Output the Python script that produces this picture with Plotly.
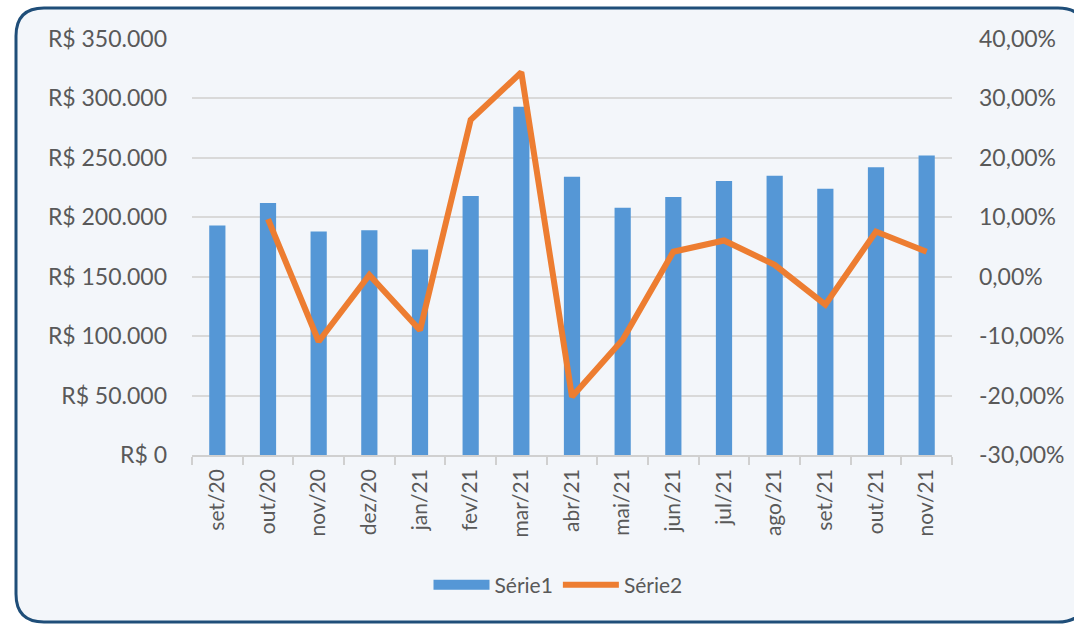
import plotly.graph_objects as go

categories = ["set/20", "out/20", "nov/20", "dez/20", "jan/21", "fev/21", "mar/21", "abr/21",
              "mai/21", "jun/21", "jul/21", "ago/21", "set/21", "out/21", "nov/21"]
serie1 = [193000, 212000, 188000, 189000, 173000, 218000, 293000, 234000,
          208000, 217000, 230500, 235000, 224000, 242000, 252000]
serie2 = [None, 0.097, -0.109, 0.003, -0.090, 0.264, 0.344, -0.202,
          -0.106, 0.042, 0.061, 0.020, -0.047, 0.076, 0.042]
y2_tickvals = [-0.30, -0.20, -0.10, 0.0, 0.10, 0.20, 0.30, 0.40]
y2_ticktext = ["-30,00%", "-20,00%", "-10,00%", "0,00%", "10,00%", "20,00%", "30,00%", "40,00%"]

W, H = 1074, 624
L, R, T, B = 192, 122, 39, 169
PW, PH = W - L - R, H - T - B


def px(x):
    return (x - L) / PW


def py(y):
    return (H - B - y) / PH


# rounded border frame (pixel coords -> paper coords)
x0, x1, y0, y1, rad = 16, 1086, 8, 622, 28
path = (
    f"M {px(x0)},{py(y0 + rad)} "
    f"Q {px(x0)},{py(y0)} {px(x0 + rad)},{py(y0)} "
    f"L {px(x1 - rad)},{py(y0)} "
    f"Q {px(x1)},{py(y0)} {px(x1)},{py(y0 + rad)} "
    f"L {px(x1)},{py(y1 - rad)} "
    f"Q {px(x1)},{py(y1)} {px(x1 - rad)},{py(y1)} "
    f"L {px(x0 + rad)},{py(y1)} "
    f"Q {px(x0)},{py(y1)} {px(x0)},{py(y1 - rad)} Z"
)

BAR_COLOR = "#5597D6"
LINE_COLOR = "#ED7D31"

fig = go.Figure()
fig.add_trace(go.Bar(
    x=categories, y=serie1, name="Série1",
    marker=dict(color=BAR_COLOR, line=dict(width=0)),
    width=0.32, yaxis="y", showlegend=False,
))
# legend proxy for the bar series (wide rectangle symbol, like the reference)
fig.add_trace(go.Scatter(
    x=[None], y=[None], name="Série1", mode="lines",
    line=dict(color=BAR_COLOR, width=12), yaxis="y", hoverinfo="skip",
))
fig.add_trace(go.Scatter(
    x=categories, y=serie2, name="Série2", mode="lines",
    line=dict(color=LINE_COLOR, width=6),
    yaxis="y2", connectgaps=False,
))

font_family = "Lato, 'Open Sans', sans-serif"
fig.update_layout(
    width=W, height=H,
    margin=dict(l=L, r=R, t=T, b=B, autoexpand=False),
    paper_bgcolor="white",
    plot_bgcolor="rgba(0,0,0,0)",
    separators=",.",
    font=dict(family=font_family, color="#595959", size=20),
    showlegend=True,
    legend=dict(orientation="h", x=px(558), xanchor="center", y=py(585), yanchor="middle",
                font=dict(size=21, color="#595959"), bgcolor="rgba(0,0,0,0)",
                itemwidth=56, tracegroupgap=0),
    shapes=[dict(type="path", path=path, xref="paper", yref="paper",
                 line=dict(color="#1F4E79", width=3), fillcolor="#F3F6FA", layer="below")],
    xaxis=dict(
        type="category", tickangle=-90, tickfont=dict(size=21, color="#595959"),
        showline=True, linecolor="#D0D0D0", linewidth=1.5,
        ticks="outside", tickson="boundaries", ticklen=8, tickcolor="#D0D0D0", tickwidth=1.5,
        showgrid=False, ticklabelstandoff=4,
    ),
    yaxis=dict(
        range=[0, 350000], dtick=50000, tickprefix="R$ ", tickformat=",d",
        showgrid=True, gridcolor="#D9D9D9", gridwidth=1.5, zeroline=False,
        tickfont=dict(size=23, color="#595959"), ticklabelstandoff=24,
    ),
    yaxis2=dict(
        range=[-0.30, 0.40], tickvals=y2_tickvals, ticktext=y2_ticktext,
        overlaying="y", side="right", showgrid=False, zeroline=False,
        tickfont=dict(size=23, color="#595959"), ticklabelstandoff=26,
    ),
)

fig.write_html(
    "out.html",
    config={"displayModeBar": False},
    post_script="document.body.style.margin='0';document.body.style.overflow='hidden';",
)
